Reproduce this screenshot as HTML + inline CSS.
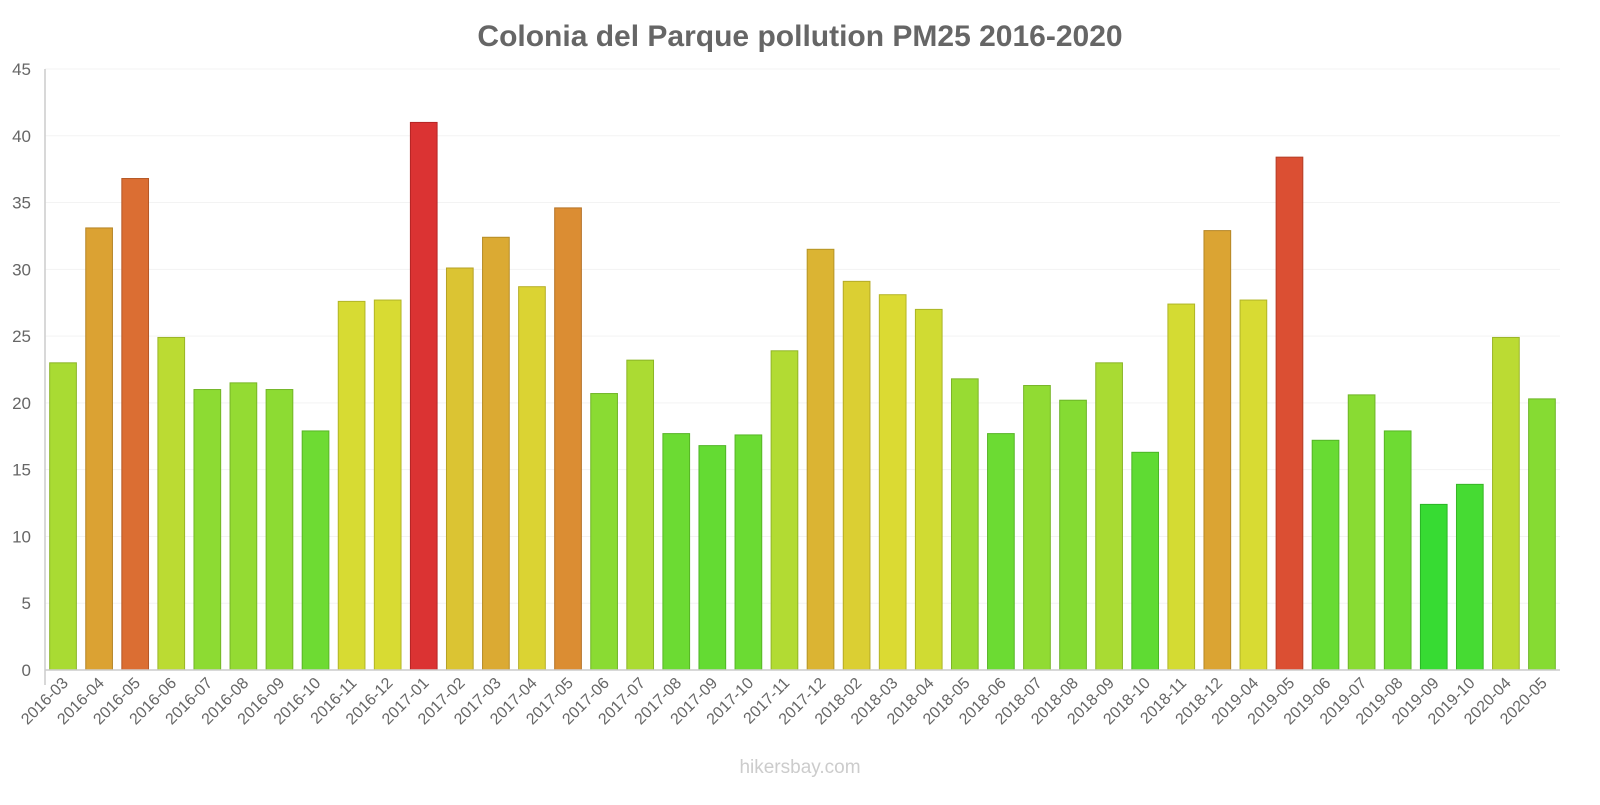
<!DOCTYPE html>
<html><head><meta charset="utf-8"><style>
html,body{margin:0;padding:0;background:#fff;}
body{width:1600px;height:800px;overflow:hidden;font-family:"Liberation Sans",sans-serif;}
</style></head><body>
<svg id="chart" width="1600" height="800" xmlns="http://www.w3.org/2000/svg">
<text x="800" y="46" text-anchor="middle" font-size="30" font-weight="bold" fill="#666" font-family="Liberation Sans, sans-serif">Colonia del Parque pollution PM25 2016-2020</text>
<g id="grid"></g><g id="bars"></g><g id="axes"></g>
<text x="800" y="773" text-anchor="middle" font-size="19" fill="#ccc" font-family="Liberation Sans, sans-serif">hikersbay.com</text>
</svg>
<script>
const categories=["2016-03","2016-04","2016-05","2016-06","2016-07","2016-08","2016-09","2016-10","2016-11","2016-12","2017-01","2017-02","2017-03","2017-04","2017-05","2017-06","2017-07","2017-08","2017-09","2017-10","2017-11","2017-12","2018-02","2018-03","2018-04","2018-05","2018-06","2018-07","2018-08","2018-09","2018-10","2018-11","2018-12","2019-04","2019-05","2019-06","2019-07","2019-08","2019-09","2019-10","2020-04","2020-05"];
const values=[23,33.1,36.8,24.9,21,21.5,21,17.9,27.6,27.7,41,30.1,32.4,28.7,34.6,20.7,23.2,17.7,16.8,17.6,23.9,31.5,29.1,28.1,27,21.8,17.7,21.3,20.2,23,16.3,27.4,32.9,27.7,38.4,17.2,20.6,17.9,12.4,13.9,24.9,20.3];
const yTicks=[0,5,10,15,20,25,30,35,40,45];
const NS="http://www.w3.org/2000/svg";
const L=45,R=1560,T=69,B=670,yMax=45;
const band=(R-L)/categories.length;
const y=v=>B-(v/yMax)*(B-T);
const x=i=>L+i*band;
function mk(t,a,p){const e=document.createElementNS(NS,t);for(const k in a)e.setAttribute(k,a[k]);p.appendChild(e);return e;}
const grid=document.getElementById('grid'),bars=document.getElementById('bars'),axes=document.getElementById('axes');
yTicks.forEach(v=>{
  const g=mk('line',{x1:L,x2:R,y1:y(v),y2:y(v),stroke:'#f3f3f3','stroke-width':1},grid);
  
  
  const t=mk('text',{x:L-14,y:y(v)+6,'text-anchor':'end','font-size':17,fill:'#666','font-family':'Liberation Sans, sans-serif'},axes);
  t.textContent=v;
  
  
});
const hv=[12,17,21,23,27,30,33,37,38.4,41],hh=[120,102,88,78,64,52,40,20,10,0];
function hue(v){if(v<=hv[0])return hh[0];for(let k=1;k<hv.length;k++){if(v<=hv[k]){const f=(v-hv[k-1])/(hv[k]-hv[k-1]);return hh[k-1]+f*(hh[k]-hh[k-1]);}}return 0;}
function col(v,dark){const h=hue(v);return `hsl(${h},${dark?65:70}%,${dark?43:53}%)`;}
values.forEach((v,i)=>{
  const bw=band*0.74,bx=x(i)+(band-bw)/2;
  const r=mk('rect',{x:bx,y:y(v),width:bw,height:B-y(v),fill:col(v),stroke:col(v,1),'stroke-width':1},bars);
  
  
  const cx=x(i)+band/2;
  const t=mk('text',{x:cx+6,y:B+14,'text-anchor':'end','font-size':16,fill:'#666','font-family':'Liberation Sans, sans-serif',transform:`rotate(-45 ${cx+6} ${B+14})`},axes);
  t.textContent=categories[i];
  
  
});
const ya=mk('line',{x1:L,x2:L,y1:T,y2:B+15,stroke:'#ccc','stroke-width':1.5},axes);


const xa=mk('line',{x1:L,x2:R,y1:B,y2:B,stroke:'#ccc','stroke-width':1.5},axes);


</script>
</body></html>
